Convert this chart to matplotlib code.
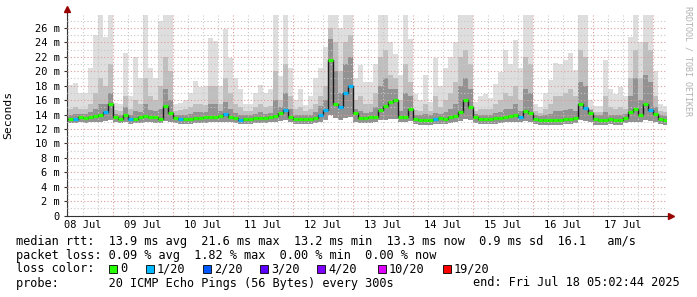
import matplotlib
matplotlib.use('Agg')
import matplotlib.pyplot as plt
import numpy as np
from matplotlib.patches import Rectangle

# smokeping 10 day graph, 2 hour steps starting 08 Jul 06:00
mono = 'DejaVu Sans Mono'

median = [13.4, 13.4, 13.6, 13.5, 13.6, 13.8, 14.0, 14.4, 15.4, 13.7, 13.4, 13.9, 13.4, 13.4, 13.6, 13.8, 13.6, 13.6, 13.4, 15.2,
          14.2, 13.5, 13.4, 13.4, 13.4, 13.5, 13.5, 13.6, 13.6, 13.7, 13.8, 14.1, 13.7, 13.5, 13.3, 13.4, 13.4, 13.5, 13.5, 13.5,
          13.6, 13.8, 14.2, 14.6, 13.7, 13.4, 13.4, 13.4, 13.4, 13.5, 14.0, 14.6, 21.6, 15.5, 15.1, 17.0, 18.0, 14.2, 13.5, 13.5,
          13.6, 13.7, 14.6, 15.2, 15.7, 16.0, 13.7, 13.7, 14.8, 13.4, 13.3, 13.3, 13.3, 13.4, 13.5, 13.4, 13.6, 13.8, 14.4, 16.0,
          15.0, 13.6, 13.4, 13.4, 13.4, 13.5, 13.5, 13.7, 13.8, 14.0, 13.7, 14.5, 14.2, 13.4, 13.3, 13.3, 13.3, 13.3, 13.3, 13.4,
          13.4, 13.5, 15.5, 14.9, 14.2, 13.4, 13.3, 13.3, 13.4, 13.3, 13.3, 13.5, 14.3, 14.7, 13.9, 15.5, 14.6, 14.1, 13.4, 13.2]

smoke_max = [18.1, 18.4, 17.0, 17.0, 20.5, 25.0, 27.8, 24.8, 27.8, 15.6, 15.4, 22.5, 16.5, 22.0, 19.0, 27.8, 20.5, 19.0, 27.0, 27.8,
             27.8, 15.4, 15.6, 16.0, 17.0, 18.6, 17.8, 18.0, 24.6, 24.2, 18.0, 25.9, 21.9, 19.0, 17.5, 15.5, 15.5, 17.0, 18.1, 17.0,
             17.6, 27.8, 19.4, 27.8, 20.5, 16.0, 17.6, 15.3, 16.5, 19.0, 20.5, 23.4, 27.8, 27.8, 26.0, 27.8, 27.8, 19.0, 20.8, 18.5,
             18.5, 21.0, 27.8, 27.8, 24.0, 22.4, 19.5, 27.8, 24.5, 16.9, 16.0, 19.5, 15.8, 21.8, 18.0, 20.4, 22.0, 24.1, 27.8, 27.8,
             27.8, 15.8, 16.5, 16.8, 16.3, 18.3, 19.9, 22.9, 21.0, 24.3, 20.5, 27.8, 27.8, 15.5, 15.0, 17.0, 18.8, 21.2, 21.0, 21.5,
             22.5, 20.2, 27.8, 27.8, 16.0, 15.2, 15.2, 21.5, 17.6, 16.8, 17.8, 16.5, 24.8, 27.8, 24.0, 27.8, 27.8, 20.0, 15.5, 15.2]

smoke_mid = [14.8, 15.0, 14.8, 14.8, 15.5, 17.0, 19.0, 18.0, 21.0, 14.6, 14.5, 16.5, 14.8, 16.0, 15.5, 19.0, 16.5, 16.0, 18.0, 22.0,
             20.0, 14.5, 14.6, 14.8, 15.0, 15.5, 15.5, 15.3, 18.0, 18.0, 15.5, 19.0, 17.0, 15.5, 15.0, 14.5, 14.5, 15.0, 15.5, 15.0,
             15.2, 20.0, 16.0, 21.0, 16.5, 14.8, 15.0, 14.5, 14.8, 15.5, 16.5, 18.0, 26.0, 24.0, 20.0, 24.0, 25.0, 16.0, 16.5, 15.5,
             15.5, 17.0, 22.0, 23.0, 19.5, 19.0, 16.0, 21.0, 18.5, 14.6, 14.5, 15.5, 14.5, 16.5, 15.0, 16.0, 17.0, 18.5, 22.0, 23.0,
             21.0, 14.5, 14.8, 14.8, 14.8, 15.5, 16.0, 17.0, 16.5, 18.0, 16.0, 22.0, 21.0, 14.5, 14.2, 14.8, 15.5, 16.5, 16.5, 17.0,
             17.5, 16.5, 23.0, 22.0, 14.8, 14.3, 14.3, 16.5, 15.0, 14.8, 15.0, 14.8, 19.0, 23.0, 19.0, 24.0, 23.0, 16.5, 14.5, 14.3]

smoke_dark = [14.0, 14.1, 14.1, 14.1, 14.3, 14.8, 15.5, 15.5, 17.0, 14.1, 14.0, 15.0, 14.0, 14.5, 14.3, 15.5, 14.6, 14.5, 14.8, 17.5,
              16.0, 14.0, 14.0, 14.0, 14.1, 14.3, 14.3, 14.3, 15.5, 15.5, 14.5, 15.8, 14.8, 14.2, 14.0, 14.0, 14.0, 14.1, 14.3, 14.1,
              14.2, 16.0, 15.0, 17.0, 14.8, 14.0, 14.0, 13.9, 14.0, 14.3, 15.2, 16.0, 24.5, 20.0, 17.0, 21.0, 22.0, 14.8, 14.5, 14.2,
              14.3, 15.0, 18.0, 19.0, 17.5, 17.5, 14.5, 17.0, 16.5, 14.0, 13.9, 14.1, 13.9, 14.2, 14.1, 14.3, 14.8, 15.5, 18.0, 19.0,
              17.5, 14.1, 14.0, 14.0, 14.0, 14.2, 14.3, 14.8, 14.8, 15.5, 14.5, 17.5, 17.0, 13.9, 13.8, 13.9, 14.1, 14.5, 14.5, 14.6,
              14.8, 14.5, 18.5, 18.0, 14.6, 13.9, 13.9, 14.3, 14.0, 13.9, 13.9, 14.1, 16.5, 19.0, 16.0, 19.5, 18.5, 15.0, 14.0, 13.8]

smoke_lo = [12.8, 12.8, 12.9, 12.8, 12.9, 12.9, 13.0, 13.1, 13.2, 12.9, 12.8, 12.9, 12.7, 12.8, 12.8, 12.9, 12.9, 12.8, 12.8, 13.1,
            13.0, 12.8, 12.7, 12.7, 12.7, 12.8, 12.8, 12.8, 12.9, 12.9, 12.9, 13.0, 12.9, 12.8, 12.7, 12.7, 12.7, 12.8, 12.8, 12.8,
            12.9, 13.0, 13.1, 13.2, 12.9, 12.7, 12.7, 12.7, 12.7, 12.8, 13.0, 13.2, 14.0, 13.5, 13.2, 13.5, 13.6, 13.0, 12.8, 12.8,
            12.8, 12.9, 13.2, 13.3, 13.4, 13.4, 12.9, 13.0, 13.1, 12.7, 12.6, 12.6, 12.6, 12.7, 12.7, 12.7, 12.8, 12.9, 13.1, 13.4,
            13.2, 12.8, 12.7, 12.7, 12.7, 12.7, 12.8, 12.9, 12.9, 13.0, 12.9, 13.1, 13.0, 12.7, 12.6, 12.6, 12.6, 12.6, 12.6, 12.7,
            12.7, 12.8, 13.2, 13.1, 12.9, 12.6, 12.6, 12.6, 12.7, 12.6, 12.6, 12.8, 13.0, 13.0, 13.0, 13.2, 13.1, 12.9, 12.7, 12.6]

# steps with 1/20 loss
loss_steps = [1, 7, 12, 22, 31, 34, 43, 50, 51, 54, 55, 56, 73, 90, 103, 116]

day_labels = ['08 Jul', '09 Jul', '10 Jul', '11 Jul', '12 Jul', '13 Jul', '14 Jul', '15 Jul', '16 Jul', '17 Jul']
y_ticks = [0, 2, 4, 6, 8, 10, 12, 14, 16, 18, 20, 22, 24, 26]

loss_labels = ['0', '1/20', '2/20', '3/20', '4/20', '10/20', '19/20']
loss_colors = ['#26ff00', '#00b8ff', '#0059ff', '#5e00ff', '#7e00ff', '#dd00ff', '#ff0000']

stats_rtt = 'median rtt:  13.9 ms avg  21.6 ms max  13.2 ms min  13.3 ms now  0.9 ms sd  16.1   am/s'
stats_loss = 'packet loss: 0.09 % avg  1.82 % max  0.00 % min  0.00 % now'
probe_txt = 'probe:       20 ICMP Echo Pings (56 Bytes) every 300s'
end_txt = 'end: Fri Jul 18 05:02:44 2025'

step = 2.0
t = 6 + step * np.arange(len(median))   # hours since 08 Jul 00:00
med = np.array(median)
lo = np.array(smoke_lo)

W, H = 697, 297
fig = plt.figure(figsize=(W / 100, H / 100), dpi=100)
ax = fig.add_axes([67 / W, (H - 215.5) / H, 600 / W, 200.5 / H])
ax.set_xlim(5.6, 245.6)
ax.set_ylim(0, 27.8)

# smoke layers
ax.bar(t, np.array(smoke_max) - lo, bottom=lo, width=step, align='edge', color='#dedede', lw=0, zorder=1)
ax.bar(t, np.array(smoke_mid) - lo, bottom=lo, width=step, align='edge', color='#bfbfbf', lw=0, zorder=1.2)
ax.bar(t, np.array(smoke_dark) - lo, bottom=lo, width=step, align='edge', color='#929292', lw=0, zorder=1.4)

# grid on top of the smoke
for h in np.arange(6, 246, 6):
    if h % 24 == 0:
        ax.axvline(h, color='#e09a9a', lw=0.8, ls=(0, (1, 2)), zorder=3)
    else:
        ax.axvline(h, color='#c8c8c8', lw=0.8, ls=(0, (1, 2)), zorder=3)
for v in range(1, 28):
    c = '#e09a9a' if v % 2 == 0 else '#c8c8c8'
    ax.axhline(v, color=c, lw=0.8, ls=(0, (1, 2)), zorder=3)

# median line coloured by loss
ax.step(np.append(t, t[-1] + step), np.append(med, med[-1]), where='post', color='#1a1a1a', lw=1.0, zorder=4)
seg_colors = [loss_colors[1] if i in loss_steps else loss_colors[0] for i in range(len(med))]
ax.hlines(med, t, t + step, colors=seg_colors, lw=2.3, zorder=5)

# axes
for s in ['top', 'right']:
    ax.spines[s].set_visible(False)
ax.spines['left'].set_color('#333333')
ax.spines['bottom'].set_color('#333333')
ax.plot([0, 0], [1, 1.02], color='#333333', lw=0.8, transform=ax.transAxes, clip_on=False)
ax.plot([1, 1.003], [0, 0], color='#333333', lw=0.8, transform=ax.transAxes, clip_on=False)
ax.plot([0], [1.03], marker='^', ms=4, color='#990000', transform=ax.transAxes, clip_on=False)
ax.plot([1.006], [0], marker='>', ms=4, color='#990000', transform=ax.transAxes, clip_on=False)

ax.set_yticks(y_ticks)
ax.set_yticklabels(['0' if v == 0 else f'{v} m' for v in y_ticks], family=mono, fontsize=7.5)
ax.set_xticks(12 + 24 * np.arange(len(day_labels)))
ax.set_xticklabels(day_labels, family=mono, fontsize=7.5)
ax.tick_params(axis='y', length=2, pad=3, color='#333333')
ax.tick_params(axis='x', length=0, pad=3)
ax.set_ylabel('Seconds', family=mono, fontsize=8.2, labelpad=8)
ax.yaxis.set_label_coords(-0.09, 0.5)

fig.text(688 / W, 1 - 6 / H, 'RRDTOOL / TOBI OETIKER', rotation=-90, va='top', ha='center',
         family=mono, fontsize=6, color='#b0b0b0')

# legend block
fs = 8.55
fig.text(16 / W, 1 - 241 / H, stats_rtt, family=mono, fontsize=fs, va='center')
fig.text(16 / W, 1 - 255 / H, stats_loss, family=mono, fontsize=fs, va='center')
fig.text(16 / W, 1 - 269 / H, 'loss color:', family=mono, fontsize=fs, va='center')
fig.text(16 / W, 1 - 283 / H, probe_txt, family=mono, fontsize=fs, va='center')
fig.text(680 / W, 1 - 283 / H, end_txt, family=mono, fontsize=fs, va='center', ha='right')

box_x = [109, 146, 203, 260, 317, 378, 443]
for bx, lab, col in zip(box_x, loss_labels, loss_colors):
    fig.add_artist(Rectangle((bx / W, 1 - 273 / H), 8 / W, 8 / H, transform=fig.transFigure,
                             facecolor=col, edgecolor='black', lw=0.6))
    fig.text((bx + 11) / W, 1 - 269 / H, lab, family=mono, fontsize=fs, va='center')

fig.savefig('out.png', dpi=100, facecolor='white')
